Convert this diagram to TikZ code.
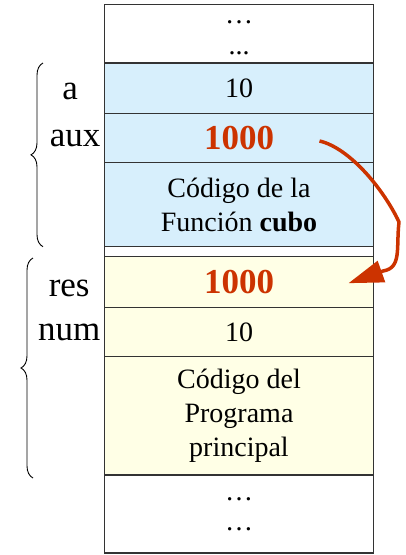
\documentclass[tikz,border=0pt]{standalone}
\usepackage{fontspec}
\setmainfont{Liberation Serif}
\usetikzlibrary{positioning,arrows.meta,decorations.pathreplacing}
\definecolor{funcblue}{RGB}{215,239,252}
\definecolor{mainyellow}{RGB}{255,255,230}
\definecolor{retred}{RGB}{204,51,0}
\begin{document}
\begin{tikzpicture}[x=1pt,y=-1pt,
  cell/.style={draw=black!80,line width=1.2pt,minimum width=269pt,inner sep=0pt,
    outer sep=0pt,align=center,font=\fontsize{28}{34}\selectfont},
  funcframe/.style={fill=funcblue},
  mainframe/.style={fill=mainyellow},
  retval/.style={font=\fontsize{35}{42}\selectfont\bfseries,text=retred},
  varname/.style={inner sep=0pt,font=\fontsize{35}{42}\selectfont},
  stackbrace/.style={decorate,decoration={brace,amplitude=12pt},line width=0.9pt},
  recall/.style={-{Triangle[length=35pt,width=22pt]},draw=retred,line width=3.5pt,line join=round}
]
  \useasboundingbox (0,0) rectangle (406,555);
  % stack cells, top to bottom
  \node[cell,minimum height=58.3pt,anchor=north,font=\fontsize{28}{26}\selectfont] (top) at (239,4.7) {\strut…\\[5pt]\strut...};
  \node[cell,funcframe,minimum height=50.3pt,below=0pt of top] (a) {10};
  \node[cell,funcframe,minimum height=49.4pt,below=0pt of a] (aux) {};
  \node[retval] (auxval) at (aux) {1000};
  \node[cell,funcframe,minimum height=84pt,below=0pt of aux] (cubo) {Código de la\\Función \textbf{cubo}};
  \node[cell,minimum height=10pt,below=0pt of cubo] (gap) {};
  \node[cell,mainframe,minimum height=51pt,below=0pt of gap] (res) {};
  \node[retval] (resval) at (res) {1000};
  \node[cell,mainframe,minimum height=49pt,below=0pt of res] (num) {10};
  \node[cell,mainframe,minimum height=118.3pt,below=0pt of num] (main) {Código del\\Programa\\principal};
  \node[cell,minimum height=78pt,below=0pt of main,font=\fontsize{28}{30}\selectfont] (bottom) {…\\…};
  % variable names
  \node[varname,left=4pt of aux] (auxlbl) {aux};
  \node[varname,above=29pt of auxlbl,xshift=-5pt] (albl) {a};
  \node[varname,left=4pt of num] (numlbl) {num};
  \node[varname,above=26.5pt of numlbl] (reslbl) {res};
  % frames
  \draw[stackbrace] ([xshift=-61.5pt]cubo.south west) -- ([xshift=-61.5pt]a.north west);
  \draw[stackbrace] ([xshift=-71.5pt,yshift=-3pt]main.south west) -- ([xshift=-71.5pt,yshift=-1.3pt]res.north west);
  % returned value
  \draw[recall] ([xshift=-54pt,yshift=-3pt]aux.east) .. controls (350,148) and (384,190) .. (399,222)
    .. controls (396,248) and (402,268) .. (383,271) -- ([xshift=-25pt,yshift=-1pt]res.east);
\end{tikzpicture}
\end{document}
